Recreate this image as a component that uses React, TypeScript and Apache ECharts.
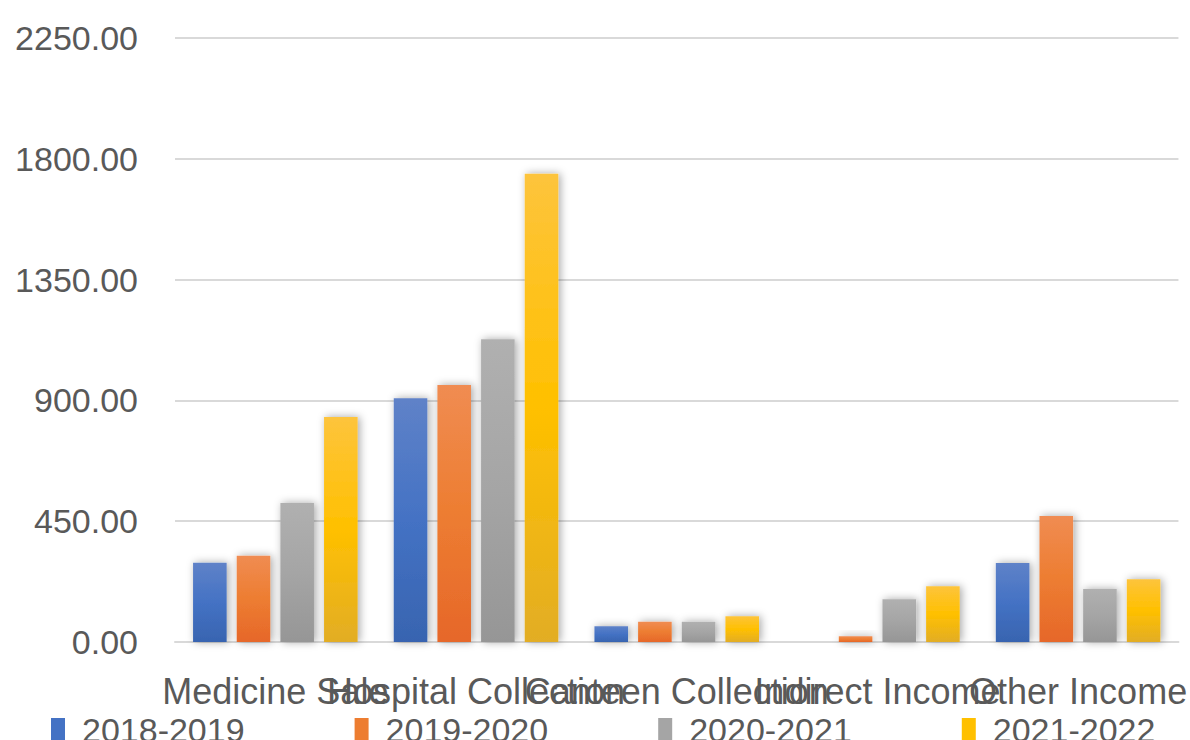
import React, { useEffect, useRef } from "react";
import * as echarts from "echarts";

const categories = ["Medicine Sale", "Hospital Collection", "Canteen Collection", "Indirect Income", "Other Income"];
const seriesNames = ["2018-2019", "2019-2020", "2020-2021", "2021-2022"];
const values2018 = [295, 908, 59, 0, 294];
const values2019 = [321, 957, 75, 21, 469];
const values2020 = [518, 1128, 75, 159, 197];
const values2021 = [838, 1744, 96, 208, 234];
const yTicks = [0, 450, 900, 1350, 1800, 2250];

const baseColors = ["#4472C4", "#ED7D31", "#A5A5A5", "#FFC000"];
const topColors = ["#5f82c8", "#f08c52", "#b0b0b0", "#fdc43c"];
const bottomColors = ["#3864b0", "#e6672a", "#969696", "#e2ad25"];

export default function App() {
  const ref = useRef<HTMLDivElement>(null);
  useEffect(() => {
    if (!ref.current) return;
    const chart = echarts.init(ref.current, undefined, { renderer: "svg" });
    const allValues = [values2018, values2019, values2020, values2021];
    const font = "Liberation Sans";
    chart.setOption({
      animation: false,
      backgroundColor: "#ffffff",
      grid: { left: 175, right: 10, top: 38, bottom: 98, containLabel: false },
      legend: {
        left: 46,
        top: 708,
        itemGap: 110,
        itemWidth: 14,
        itemHeight: 24,
        icon: "rect",
        textStyle: { fontFamily: font, fontSize: 34, color: "#595959", padding: [0, 0, 0, 12] },
        data: seriesNames.map((n, i) => ({ name: n, itemStyle: { color: baseColors[i] } })),
      },
      xAxis: {
        type: "category",
        data: categories,
        axisLine: { show: true, lineStyle: { color: "#d9d9d9", width: 2 } },
        axisTick: { show: false },
        axisLabel: {
          interval: 0,
          margin: 31,
          fontFamily: font,
          fontSize: 36,
          color: "#595959",
        },
      },
      yAxis: {
        type: "value",
        min: 0,
        max: 2250,
        interval: 450,
        axisLine: { show: false },
        axisTick: { show: false },
        splitLine: { lineStyle: { color: "#d9d9d9", width: 2 } },
        axisLabel: {
          margin: 37,
          fontFamily: font,
          fontSize: 34,
          color: "#595959",
          formatter: (v: number) => (yTicks.includes(v) ? v.toFixed(2) : ""),
        },
      },
      series: seriesNames.map((name, i) => ({
        name,
        type: "bar",
        data: allValues[i],
        barCategoryGap: "18%",
        barGap: "30%",
        itemStyle: {
          color: new echarts.graphic.LinearGradient(0, 0, 0, 1, [
            { offset: 0, color: topColors[i] },
            { offset: 0.5, color: baseColors[i] },
            { offset: 1, color: bottomColors[i] },
          ]),
          shadowColor: "rgba(0,0,0,0.35)",
          shadowBlur: 8,
          shadowOffsetX: 2,
          shadowOffsetY: 0,
        },
      })),
    });
    return () => chart.dispose();
  }, []);
  return (
    <div
      ref={ref}
      style={{ position: "fixed", left: 0, top: 0, width: 1190, height: 740 }}
    />
  );
}
